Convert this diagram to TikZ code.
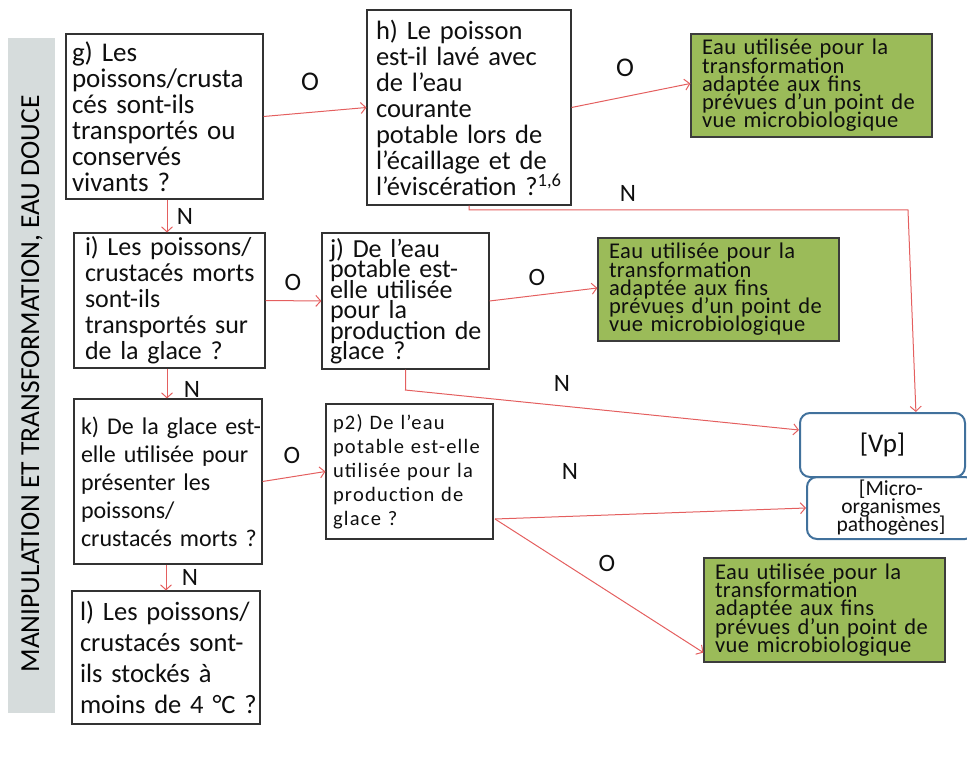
\documentclass[tikz,border=0pt]{standalone}
\usepackage{fontspec}
\setmainfont{Carlito}
\newfontfamily\greenfont[LetterSpace=2]{Carlito}
\newfontfamily\ptwofont[LetterSpace=6]{Carlito}
\usetikzlibrary{arrows.meta,calc}
\newcommand{\myfs}[2]{\fontsize{#1}{#2}\selectfont\lineskiplimit=-40pt\relax}
\newcommand{\oneline}[1]{\mbox{#1}}
\definecolor{sidegray}{RGB}{214,220,220}
\definecolor{gfill}{RGB}{155,187,89}
\definecolor{gline}{RGB}{60,60,60}
\definecolor{boxline}{RGB}{50,50,50}
\definecolor{vpblue}{RGB}{65,113,156}
\definecolor{redline}{RGB}{228,95,95}
\definecolor{txt}{RGB}{15,15,15}
\begin{document}
\begin{tikzpicture}[x=1pt,y=-1pt,
  qbox/.style={draw=boxline, line width=1.1pt, fill=white, align=left, text=txt, inner ysep=0pt},
  gbox/.style={draw=gline, line width=1.2pt, fill=gfill, align=left, text=txt, inner xsep=11pt, inner ysep=0pt,
    text width=219pt, minimum width=241pt, minimum height=103pt, font=\greenfont\myfs{22.5}{18.3}},
  vpbox/.style={draw=vpblue, line width=2pt, fill=white, rounded corners=10pt, align=center, text=txt, inner sep=0pt},
  lab/.style={font=\myfs{25}{27}, text=txt, inner sep=0pt},
  arr/.style={draw=redline, line width=1pt, -{Straight Barb[length=5pt,width=11pt]}}]
\useasboundingbox (0,0) rectangle (967,762);
\clip (0,0) rectangle (967,762);

% sidebar
\fill[sidegray] (8,38) rectangle (55,713);
\node[rotate=90, font=\myfs{27.5}{30}, text={RGB:red,38;green,38;blue,38}, inner sep=0pt] (side) at (32,384) {MANIPULATION ET TRANSFORMATION, EAU DOUCE};

% question boxes
\node[qbox, minimum width=197pt, minimum height=165pt, text width=185pt, inner xsep=6pt, font=\myfs{27}{26}] (g) at (164.5,116.5)
 {\oneline{g) Les}\\\oneline{poissons/crusta}\\\oneline{cés sont-ils}\\\oneline{transportés ou}\\\oneline{conservés}\\\oneline{vivants ?}};
\node[qbox, minimum width=204pt, minimum height=195pt, text width=186pt, inner xsep=9pt, font=\myfs{26.5}{26}] (h) at (469,107.5)
 {\oneline{h) Le poisson}\\\oneline{est-il lavé avec}\\\oneline{de l’eau}\\\oneline{courante}\\\oneline{potable lors de}\\\oneline{l’écaillage et de}\\\oneline{l’éviscération ?\textsuperscript{1,6}}};
\node[qbox, minimum width=191pt, minimum height=135pt, text width=169pt, inner xsep=11pt, font=\myfs{26}{26}] (i) at (169.5,300.5)
 {\oneline{i) Les poissons/}\\\oneline{crustacés morts}\\\oneline{sont-ils}\\\oneline{transportés sur}\\\oneline{de la glace ?}};
\node[qbox, minimum width=167pt, minimum height=136pt, text width=151pt, inner xsep=8pt, font=\myfs{26}{20.5}] (j) at (405.5,301)
 {\oneline{j) De l’eau}\\\oneline{potable est-}\\\oneline{elle utilisée}\\\oneline{pour la}\\\oneline{production de}\\\oneline{glace ?}};
\node[qbox, minimum width=188pt, minimum height=165pt, text width=174pt, inner xsep=7pt, font=\myfs{24}{28}] (k) at (168,481.5)
 {\oneline{k) De la glace est-}\\\oneline{elle utilisée pour}\\\oneline{présenter les}\\\oneline{poissons/}\\\oneline{crustacés morts ?}};
\node[qbox, minimum width=167pt, minimum height=135pt, text width=153pt, inner xsep=7pt, font=\ptwofont\myfs{20.5}{24}] (p2) at (409.5,471.5)
 {\oneline{p2) De l’eau}\\\oneline{potable est-elle}\\\oneline{utilisée pour la}\\\oneline{production de}\\\oneline{glace ?}};
\node[qbox, minimum width=188pt, minimum height=133pt, text width=172pt, inner xsep=8pt, font=\myfs{26.5}{31}] (l) at (166,657.5)
 {\oneline{l) Les poissons/}\\\oneline{crustacés sont-}\\\oneline{ils stockés à}\\\oneline{moins de 4 °\kern0pt C ?}};

% green outcome boxes
\node[gbox] (G1) at (811.5,85.5)
 {\oneline{Eau utilisée pour la}\\\oneline{transformation}\\\oneline{adaptée aux fins}\\\oneline{prévues d’un point de}\\\oneline{vue microbiologique}};
\node[gbox] (G2) at (718.5,289.5)
 {\oneline{Eau utilisée pour la}\\\oneline{transformation}\\\oneline{adaptée aux fins}\\\oneline{prévues d’un point de}\\\oneline{vue microbiologique}};
\node[gbox, minimum height=104pt] (G3) at (824.5,610)
 {\oneline{Eau utilisée pour la}\\\oneline{transformation}\\\oneline{adaptée aux fins}\\\oneline{prévues d’un point de}\\\oneline{vue microbiologique}};

% hazard boxes
\node[vpbox, minimum width=168pt, minimum height=62pt, font=\myfs{21.5}{18}] (micro) at (891,508)
 {[Micro-\\organismes\\pathogènes]};
\node[vpbox, minimum width=165pt, minimum height=64pt, font=\myfs{27}{28}] (Vp) at (882.5,445) {[Vp]};

% connectors
\draw[arr] (g.east) -- (h.west);
\draw[arr] (h.east) -- ([yshift=2pt]G1.west);
\coordinate (hbend) at (908,210);
\draw[arr] (h.south) |- (hbend) -- ($(Vp.north west)!0.7!(Vp.north east)$);
\draw[arr] (g.south -| 167,0) -- (i.north -| 167,0);
\draw[arr] (i.east) -- (j.west);
\draw[arr] (j.east) -- ([yshift=1.5pt]G2.west);
\coordinate (jbend) at (405,390);
\draw[arr] (j.south) |- (jbend) -- ([yshift=15pt]Vp.west);
\draw[arr] (i.south -| 167,0) -- (k.north -| 167,0);
\draw[arr] (k.east) -- (p2.west);
\draw[arr] (k.south -| 166,0) -- (l.north -| 166,0);
\coordinate (p2out) at (495,519);
\draw[arr] (p2out) -- (micro.west);
\draw[arr] (p2out) -- ([yshift=10pt]G3.south west);

% labels
\node[lab, font=\myfs{27}{29}] (lO1) at (310,82) {O};
\node[lab, font=\myfs{27}{29}] (lO2) at (625,68) {O};
\node[lab] (lN1) at (628,193) {N};
\node[lab] (lN2) at (185,216) {N};
\node[lab] (lO3) at (293,282) {O};
\node[lab] (lO4) at (537,277) {O};
\node[lab] (lN3) at (192,389) {N};
\node[lab] (lN4) at (562,383) {N};
\node[lab] (lO5) at (292,455) {O};
\node[lab] (lN5) at (190,577) {N};
\node[lab] (lN6) at (570,471) {N};
\node[lab] (lO6) at (607,563) {O};
\end{tikzpicture}
\end{document}
